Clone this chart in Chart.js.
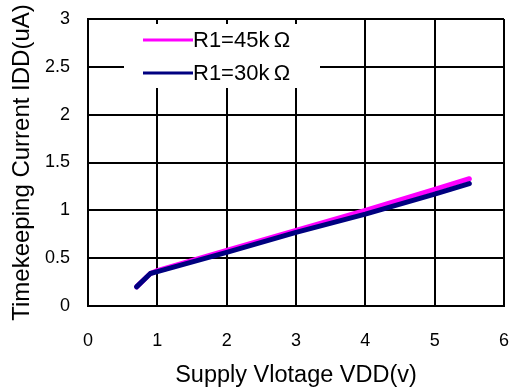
<!DOCTYPE html>
<html>
<head>
<meta charset="utf-8">
<script src="https://cdn.jsdelivr.net/npm/chart.js@4"></script>
<style>
html,body{margin:0;padding:0;background:#fff;}
#wrap{width:510px;height:391px;position:relative;}
</style>
</head>
<body>
<div id="wrap"><canvas id="c" width="510" height="391"></canvas></div>
<script>
const seriesLabels = ['R1=45k\u2009\u03A9', 'R1=30k\u2009\u03A9'];
const voltage = [0.7, 0.9, 1, 2, 3, 4, 5, 5.5];
const current45k = [0.2, 0.34, 0.37, 0.58, 0.79, 1.0, 1.22, 1.33];
const current30k = [0.2, 0.34, 0.36, 0.56, 0.77, 0.96, 1.17, 1.28];
const xTitle = 'Supply Vlotage VDD(v)';
const yTitle = 'Timekeeping Current IDD(uA)';
const seriesColors = ['#ff00ff', '#000080'];

const toPts = (xs, ys) => xs.map((x, i) => ({x: x, y: ys[i]}));

const legendPlugin = {
  id: 'insideLegend',
  afterDatasetsDraw(chart) {
    const ctx = chart.ctx;
    ctx.save();
    ctx.fillStyle = '#fff';
    ctx.fillRect(124, 24, 196, 64);
    const rows = [40, 73];
    chart.data.datasets.forEach((ds, i) => {
      const y = rows[i];
      ctx.strokeStyle = ds.borderColor;
      ctx.lineWidth = 3;
      ctx.beginPath();
      ctx.moveTo(143, y);
      ctx.lineTo(193, y);
      ctx.stroke();
      ctx.fillStyle = '#000';
      ctx.font = '22px "Liberation Sans", Arial, sans-serif';
      ctx.textBaseline = 'middle';
      ctx.textAlign = 'left';
      ctx.fillText(ds.label, 193, y + 1);
    });
    ctx.restore();
  }
};

new Chart(document.getElementById('c'), {
  type: 'line',
  data: {
    datasets: [
      {label: seriesLabels[0], data: toPts(voltage, current45k), borderColor: seriesColors[0], backgroundColor: seriesColors[0], borderWidth: 5, pointRadius: 0, tension: 0, order: 1, borderCapStyle: 'round', borderJoinStyle: 'round'},
      {label: seriesLabels[1], data: toPts(voltage, current30k), borderColor: seriesColors[1], backgroundColor: seriesColors[1], borderWidth: 5, pointRadius: 0, tension: 0, order: 0, borderCapStyle: 'round', borderJoinStyle: 'round'}
    ]
  },
  options: {
    responsive: false,
    animation: false,
    devicePixelRatio: 1,
    layout: {padding: {top: 19, right: 6, left: 0, bottom: 0}},
    plugins: {legend: {display: false}, tooltip: {enabled: false}},
    scales: {
      x: {
        type: 'linear', min: 0, max: 6,
        ticks: {stepSize: 1, color: '#000', font: {family: '"Liberation Sans", Arial, sans-serif', size: 18}, padding: 24, maxRotation: 0},
        grid: {color: '#000', lineWidth: 2, drawTicks: false},
        border: {display: true, color: '#000', width: 2},
        title: {display: true, text: xTitle, color: '#000', font: {family: '"Liberation Sans", Arial, sans-serif', size: 23.5, lineHeight: 1.2}, padding: {top: 0, bottom: 1}},
        afterFit: s => { s.height = 85; s.paddingLeft = 0; s.paddingRight = 0; }
      },
      y: {
        type: 'linear', min: 0, max: 3,
        ticks: {stepSize: 0.5, color: '#000', font: {family: '"Liberation Sans", Arial, sans-serif', size: 18}, padding: 18, callback: v => String(v)},
        grid: {color: '#000', lineWidth: 2, drawTicks: false},
        border: {display: true, color: '#000', width: 2},
        title: {display: true, text: yTitle, color: '#000', font: {family: '"Liberation Sans", Arial, sans-serif', size: 24, lineHeight: 1.2}, padding: {top: 8, bottom: 0}},
        afterFit: s => { s.width = 88; s.paddingTop = 0; s.paddingBottom = 0; }
      }
    }
  },
  plugins: [legendPlugin]
});
</script>
</body>
</html>
